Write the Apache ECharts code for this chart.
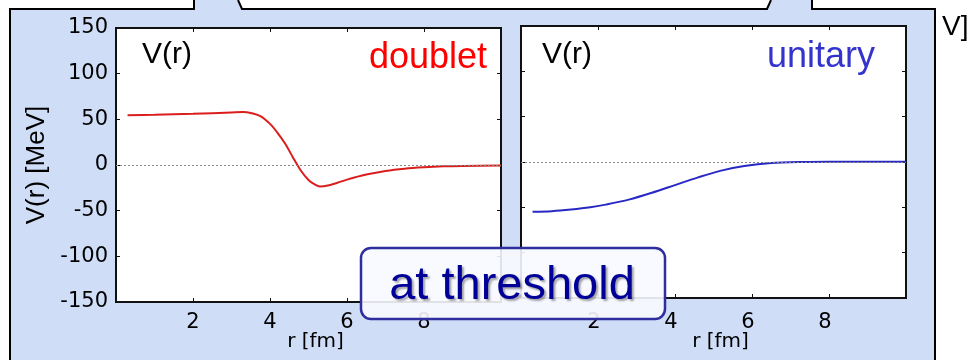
<!DOCTYPE html>
<html>
<head>
<meta charset="utf-8">
<script src="https://cdn.jsdelivr.net/npm/echarts@6/dist/echarts.min.js"></script>
<style>html,body{margin:0;padding:0;background:#fff}#c{width:967px;height:360px}</style>
</head>
<body>
<div id="c"></div>
<script>
// r [fm] and V(r) [MeV]
const rDoublet = [0.3, 1.0, 2.0, 3.0, 3.3, 3.5, 3.75, 4.0, 4.2, 4.4, 4.6, 4.8, 5.0, 5.15, 5.3, 5.5, 5.75, 6.0, 6.5, 7.0, 7.5, 8.0, 8.5, 9.0, 10.0];
const vDoublet = [54.5, 55, 56, 57.5, 58, 57, 53.5, 45, 35, 23, 8, -6, -16.5, -21, -23.5, -22.5, -19.5, -16, -10.5, -6.5, -4, -2.5, -1.5, -1, -0.5];
const rUnitary = [0.3, 0.8, 1.3, 1.8, 2.2, 2.8, 3.4, 4.0, 4.6, 5.2, 5.8, 6.5, 7.3, 8.0, 9.0, 10.0];
const vUnitary = [-55, -54.3, -52.5, -50, -47, -41.5, -34, -25.5, -17, -9.5, -4.5, -1.2, 0, 0.3, 0.3, 0.3];
const xRange = [0, 10];
const xStep = 2;
const yRange = [-150, 150];
const yStep = 50;
const panelLabels = ['doublet', 'unitary'];
const panelTitle = 'V(r)';
const xName = 'r [fm]';
const yName = 'V(r) [MeV]';
const boxText = 'at threshold';

const pairs = (xs, ys) => xs.map((x, i) => [x, ys[i]]);
const chart = echarts.init(document.getElementById('c'));
const tickFont = {fontFamily: 'DejaVu Sans', fontSize: 21, color: '#000'};
const tick = {show: true, inside: true, length: 4, lineStyle: {color: '#111', width: 1}};

function xAx(g, pos, labels, margin, nameGap, shift) {
  const a = {gridIndex: g, type: 'value', min: xRange[0], max: xRange[1], interval: xStep, position: pos,
    axisLine: {show: false, onZero: false}, axisTick: tick, splitLine: {show: false},
    axisLabel: labels ? Object.assign({showMinLabel: false, showMaxLabel: false, margin: margin, padding: [0, shift, 0, 0]}, tickFont) : {show: false}};
  if (labels) {
    a.name = xName; a.nameLocation = 'middle'; a.nameGap = nameGap; a.nameMoveOverlap = false;
    a.nameTextStyle = {fontFamily: 'DejaVu Sans', fontSize: 20, color: '#000', padding: [0, 0, 0, 14]};
  }
  return a;
}
function yAx(g, pos, labels) {
  const a = {gridIndex: g, type: 'value', min: yRange[0], max: yRange[1], interval: yStep, position: pos,
    axisLine: {show: false, onZero: false}, axisTick: tick, splitLine: {show: false},
    axisLabel: labels ? Object.assign({margin: 8}, tickFont) : {show: false}};
  if (labels) {
    a.name = yName; a.nameLocation = 'middle'; a.nameGap = 66; a.nameMoveOverlap = false;
    a.nameTextStyle = {fontFamily: 'Liberation Sans', fontSize: 26, color: '#000'};
  }
  return a;
}
const zeroLine = {silent: true, symbol: ['none', 'none'], label: {show: false},
  lineStyle: {color: '#888', type: [2, 2], width: 1}, data: [{yAxis: 0}]};

const blue = '#cfddf7';
chart.setOption({
  animation: false,
  backgroundColor: '#fff',
  grid: [
    {left: 116, top: 28, width: 385, height: 274, outerBoundsMode: 'none', containLabel: false, show: true, backgroundColor: '#fff', borderColor: '#111', borderWidth: 2},
    {left: 521, top: 26, width: 385, height: 272, outerBoundsMode: 'none', containLabel: false, show: true, backgroundColor: '#fff', borderColor: '#111', borderWidth: 2}
  ],
  xAxis: [xAx(0, 'bottom', true, 10, 30, 0), xAx(0, 'top', false), xAx(1, 'bottom', true, 14, 34, 8), xAx(1, 'top', false)],
  yAxis: [yAx(0, 'left', true), yAx(0, 'right', false), yAx(1, 'left', false), yAx(1, 'right', false)],
  series: [
    {type: 'line', xAxisIndex: 0, yAxisIndex: 0, data: pairs(rDoublet, vDoublet), smooth: 0.3, showSymbol: false,
      lineStyle: {color: '#da1e1e', width: 2}, markLine: zeroLine, z: 3},
    {type: 'line', xAxisIndex: 2, yAxisIndex: 2, data: pairs(rUnitary, vUnitary), smooth: 0.3, showSymbol: false,
      lineStyle: {color: '#2828c4', width: 2}, markLine: zeroLine, z: 3}
  ],
  graphic: [
    {type: 'polygon', z: -10, shape: {points: [[10,360],[10,9],[194,9],[194,0],[238,0],[242,9],[767,9],[771,0],[812,0],[812,9],[935,9],[935,360]]},
      style: {fill: blue}},
    {type: 'polyline', z: -9, shape: {points: [[10,360],[10,9],[194,9],[194,0]]}, style: {stroke: '#000', lineWidth: 2, fill: null}},
    {type: 'polyline', z: -9, shape: {points: [[238,0],[242,9],[767,9],[771,0]]}, style: {stroke: '#000', lineWidth: 2, fill: null}},
    {type: 'polyline', z: -9, shape: {points: [[812,0],[812,9],[935,9],[935,360]]}, style: {stroke: '#000', lineWidth: 2, fill: null}},
    {type: 'text', z: 50, style: {x: 142, y: 55, text: panelTitle, font: '30px "Liberation Sans"', fill: '#000', textVerticalAlign: 'middle'}},
    {type: 'text', z: 50, style: {x: 542, y: 55, text: panelTitle, font: '30px "Liberation Sans"', fill: '#000', textVerticalAlign: 'middle'}},
    {type: 'text', z: 50, style: {x: 487, y: 58.5, text: panelLabels[0], font: '36px "Liberation Sans"', fill: '#ff0000', textAlign: 'right', textVerticalAlign: 'middle'}},
    {type: 'text', z: 50, style: {x: 875, y: 57.5, text: panelLabels[1], font: '36px "Liberation Sans"', fill: '#3434cc', textAlign: 'right', textVerticalAlign: 'middle'}},
    {type: 'text', z: 50, style: {x: 942, y: 27, text: 'V]', font: '28px "Liberation Sans"', fill: '#000', textVerticalAlign: 'middle'}},
    {type: 'rect', z: 60, shape: {x: 361, y: 248, width: 304, height: 71, r: 10},
      style: {fill: 'rgba(248,250,255,0.9)', stroke: '#2e2e9c', lineWidth: 2.5}},
    {type: 'text', z: 61, style: {x: 512, y: 286, text: boxText, font: '47px "Liberation Sans"', fill: '#000099',
      textAlign: 'center', textVerticalAlign: 'middle', textShadowColor: 'rgba(0,0,0,0.35)', textShadowOffsetX: 2, textShadowOffsetY: 2, textShadowBlur: 2}}
  ]
});
</script>
</body>
</html>
